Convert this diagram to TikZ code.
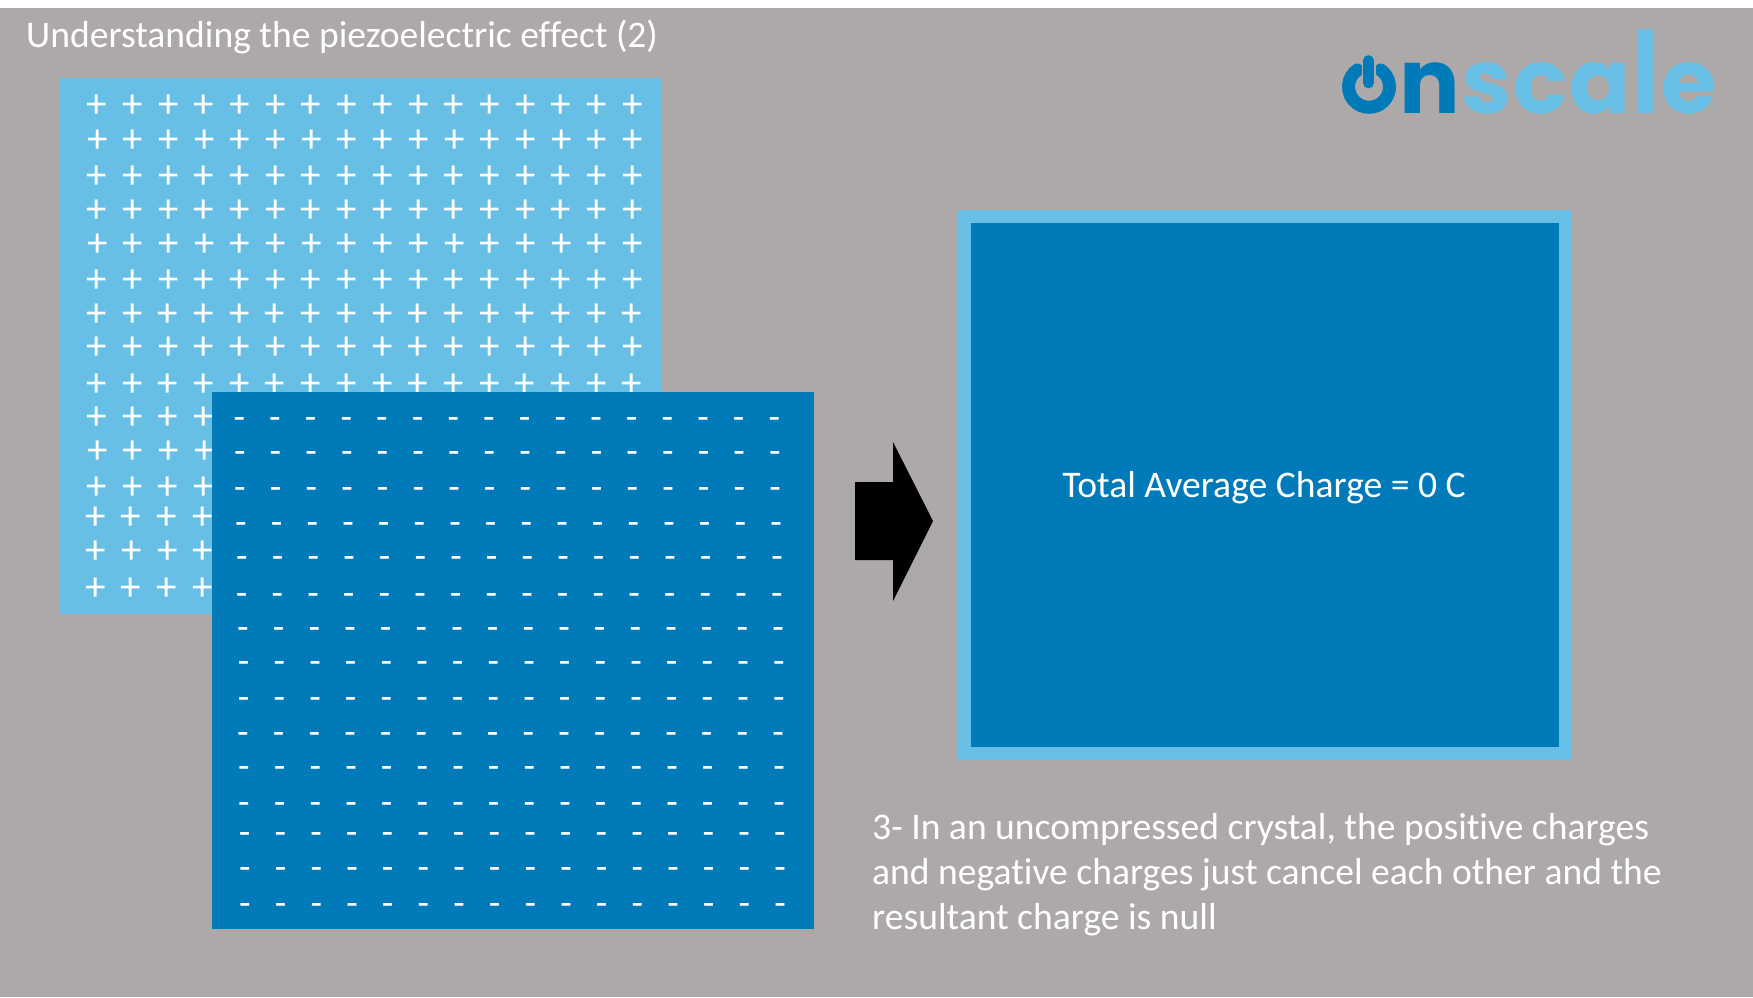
\documentclass[tikz,border=0pt]{standalone}
\usepackage{fontspec}
\setmainfont{Carlito}[Ligatures=NoCommon]
\newfontfamily\logofont{Poppins}
\definecolor{bggray}{HTML}{ADA9A8}
\definecolor{lightblue}{HTML}{68BFE6}
\definecolor{darkblue}{HTML}{007AB8}
\tikzset{
  titletext/.style={text=white,font=\fontsize{37.6}{45}\selectfont,anchor=base west,inner sep=0pt},
  bodytext/.style={text=white,font=\fontsize{37.6}{45}\selectfont,anchor=base west,inner sep=0pt,align=left},
  plus/.style={text=white,font=\fontsize{41}{41}\selectfont,inner sep=0pt},
  minus/.style={text=white,font=\fontsize{37.6}{38}\selectfont,inner sep=0pt},
}
\begin{document}
\begin{tikzpicture}[x=1pt,y=-1pt]
\useasboundingbox (0,0) rectangle (1753,997);
\fill[white] (0,0) rectangle (1753,997);
\fill[bggray] (0,8) rectangle (1753,997);
\node[titletext] (title) at (26,47) {Understanding the piezoelectric effect (2)};
\fill[lightblue] (60,78) rectangle (661,614);
% rows of plus signs: y / x of the first column / last column shown
\foreach \y/\xs/\last [count=\r] in {104.5/97/15,139/97.3/15,175.5/97/15,209.5/97/15,243.5/97.3/15,279.5/97/15,313/96.7/15,346.5/96.9/15,383.5/96.7/15,416.7/96.7/3,450/97.3/3,486.7/96.7/3,516.7/95.5/3,550.7/96/3,587.3/95.5/3}
  \foreach \c in {0,...,\last}
    \node[plus] (p\r-\c) at ({\xs+35.7*\c},{\y+2}) {+};
\fill[darkblue] (212,392) rectangle (814,929);
\foreach \y/\xs [count=\r] in {418/239.3,452/239.8,488/240,523/241,557/242,593.5/241.7,627.5/243,661.5/243.7,697.5/243.7,733/243,767/244,803/244,833/244.7,867.5/245,903.5/245}
  \foreach \c in {0,...,15}
    \node[minus] (m\r-\c) at ({\xs+35.67*\c},{\y+5.5}) {-};
\fill (855,482) -- (893,482) -- (893,442) -- (933,521) -- (893,601) -- (893,560) -- (855,560) -- cycle;
\fill[lightblue] (958,210) rectangle (1572,760);
\fill[darkblue] (971,223) rectangle (1559,747);
\node[text=white,font=\fontsize{37.6}{45}\selectfont] (total) at (1264,488) {Total Average Charge = 0 C};
\node[bodytext] (b1) at (872,839) {3- In an uncompressed crystal, the positive charges};
\node[bodytext] (b2) at (872,884) {and negative charges just cancel each other and the};
\node[bodytext] (b3) at (872,929) {resultant charge is null};
% logo
\draw[darkblue,line width=13pt,line cap=round] (1380.76,70) arc[start angle=-55,end angle=235,radius=20.5];
\draw[bggray,line width=14pt,line cap=round] (1368.6,60.5) -- (1368.6,83);
\draw[darkblue,line width=10.7pt,line cap=round] (1368.6,60.5) -- (1368.6,83);
\node[font=\logofont\bfseries\fontsize{90}{90}\selectfont,anchor=base west,inner sep=0pt] (logo) at (1399,113.5) {\textcolor{darkblue}{n}\kern1.8pt\textcolor{lightblue}{s\kern1.8pt c\kern1.8pt a\kern1.8pt\scalebox{1}[1.26]{l}\kern1.8pt e}};
\node[text=lightblue!70!bggray,font=\logofont\fontsize{11}{11}\selectfont,inner sep=0pt] (reg) at (1716,110) {®};
\end{tikzpicture}
\end{document}
